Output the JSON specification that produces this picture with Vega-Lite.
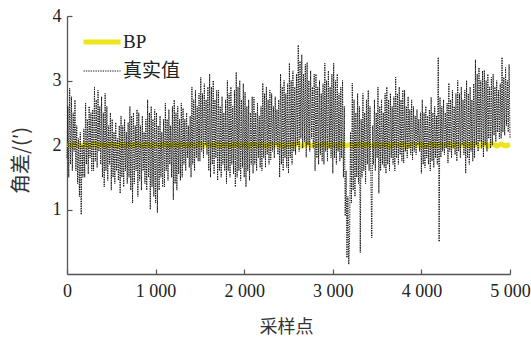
{
  "$schema": "https://vega.github.io/schema/vega-lite/v6.json",
  "width": 443,
  "height": 258,
  "autosize": {"type": "none"},
  "padding": {"left": 67, "top": 16, "right": 21, "bottom": 66},
  "background": "white",
  "datasets": {
    "bp": [
      {"x":0,"BP":2.01},{"x":50,"BP":1.99},{"x":100,"BP":2.015},{"x":150,"BP":1.985},{"x":200,"BP":2.01},{"x":250,"BP":1.99},{"x":300,"BP":2.015},{"x":350,"BP":1.99},{"x":400,"BP":2.01},{"x":450,"BP":1.985},
      {"x":500,"BP":2.015},{"x":550,"BP":1.99},{"x":600,"BP":2.01},{"x":650,"BP":1.985},{"x":700,"BP":2.015},{"x":750,"BP":1.99},{"x":800,"BP":2.01},{"x":850,"BP":1.99},{"x":900,"BP":2.015},{"x":950,"BP":1.985},
      {"x":1000,"BP":2.01},{"x":1050,"BP":1.99},{"x":1100,"BP":2.015},{"x":1150,"BP":1.985},{"x":1200,"BP":2.01},{"x":1250,"BP":1.99},{"x":1300,"BP":2.015},{"x":1350,"BP":1.99},{"x":1400,"BP":2.01},{"x":1450,"BP":1.985},
      {"x":1500,"BP":2.015},{"x":1550,"BP":1.99},{"x":1600,"BP":2.02},{"x":1650,"BP":1.985},{"x":1700,"BP":2.015},{"x":1750,"BP":1.99},{"x":1800,"BP":2.01},{"x":1850,"BP":1.985},{"x":1900,"BP":2.015},{"x":1950,"BP":1.99},
      {"x":2000,"BP":2.01},{"x":2050,"BP":1.985},{"x":2100,"BP":2.015},{"x":2150,"BP":1.99},{"x":2200,"BP":2.01},{"x":2250,"BP":1.985},{"x":2300,"BP":2.015},{"x":2350,"BP":1.99},{"x":2400,"BP":2.01},{"x":2450,"BP":1.985},
      {"x":2500,"BP":2.015},{"x":2550,"BP":1.99},{"x":2600,"BP":2.02},{"x":2650,"BP":1.985},{"x":2700,"BP":2.015},{"x":2750,"BP":1.99},{"x":2800,"BP":2.01},{"x":2850,"BP":1.985},{"x":2900,"BP":2.015},{"x":2950,"BP":1.99},
      {"x":3000,"BP":2.01},{"x":3050,"BP":1.985},{"x":3100,"BP":2.015},{"x":3150,"BP":1.99},{"x":3200,"BP":2.01},{"x":3250,"BP":1.985},{"x":3300,"BP":2.015},{"x":3350,"BP":1.99},{"x":3400,"BP":2.01},{"x":3450,"BP":1.985},
      {"x":3500,"BP":2.015},{"x":3550,"BP":1.99},{"x":3600,"BP":2.01},{"x":3650,"BP":1.985},{"x":3700,"BP":2.015},{"x":3750,"BP":1.99},{"x":3800,"BP":2.01},{"x":3850,"BP":1.985},{"x":3900,"BP":2.015},{"x":3950,"BP":1.99},
      {"x":4000,"BP":2.01},{"x":4050,"BP":1.985},{"x":4100,"BP":2.015},{"x":4150,"BP":1.99},{"x":4200,"BP":2.01},{"x":4250,"BP":1.985},{"x":4300,"BP":2.015},{"x":4350,"BP":1.99},{"x":4400,"BP":2.015},{"x":4450,"BP":1.985},
      {"x":4500,"BP":2.015},{"x":4550,"BP":1.985},{"x":4600,"BP":2.02},{"x":4650,"BP":1.985},{"x":4700,"BP":2.02},{"x":4750,"BP":1.98},{"x":4800,"BP":2.02},{"x":4850,"BP":1.985},{"x":4900,"BP":2.015},{"x":4950,"BP":1.985},
      {"x":5000,"BP":2.005}
    ],
    "real": [
      {"x":0,"真实值":1.8},{"x":10,"真实值":2.6},{"x":20,"真实值":1.5},{"x":30,"真实值":2.88},{"x":40,"真实值":1.7},{"x":50,"真实值":2.75},{"x":60,"真实值":1.6},{"x":70,"真实值":2.5},{"x":80,"真实值":1.9},{"x":90,"真实值":2.7},
      {"x":100,"真实值":1.6},{"x":110,"真实值":2.3},{"x":120,"真实值":1.4},{"x":130,"真实值":2.1},{"x":140,"真实值":1.2},{"x":150,"真实值":2.2},{"x":160,"真实值":0.92},{"x":170,"真实值":2.0},{"x":180,"真实值":1.5},{"x":190,"真实值":2.25},
      {"x":200,"真实值":1.5},{"x":210,"真实值":2.65},{"x":220,"真实值":1.7},{"x":230,"真实值":2.4},{"x":240,"真实值":1.55},{"x":250,"真实值":2.6},{"x":260,"真实值":1.8},{"x":270,"真实值":2.5},{"x":280,"真实值":1.6},{"x":290,"真实值":2.55},
      {"x":300,"真实值":1.6},{"x":310,"真实值":2.9},{"x":320,"真实值":1.75},{"x":330,"真实值":2.7},{"x":340,"真实值":1.65},{"x":350,"真实值":2.85},{"x":360,"真实值":1.9},{"x":370,"真实值":2.6},{"x":380,"真实值":1.7},{"x":390,"真实值":2.75},
      {"x":400,"真实值":1.5},{"x":410,"真实值":2.5},{"x":420,"真实值":1.35},{"x":430,"真实值":2.8},{"x":440,"真实值":1.6},{"x":450,"真实值":2.6},{"x":460,"真实值":1.45},{"x":470,"真实值":2.3},{"x":480,"真实值":1.7},{"x":490,"真实值":2.5},
      {"x":500,"真实值":1.3},{"x":510,"真实值":2.4},{"x":520,"真实值":1.5},{"x":530,"真实值":2.2},{"x":540,"真实值":1.4},{"x":550,"真实值":2.35},{"x":560,"真实值":1.6},{"x":570,"真实值":2.1},{"x":580,"真实值":1.45},{"x":590,"真实值":2.3},
      {"x":600,"真实值":1.25},{"x":610,"真实值":2.45},{"x":620,"真实值":1.5},{"x":630,"真实值":2.3},{"x":640,"真实值":1.35},{"x":650,"真实值":2.4},{"x":660,"真实值":1.6},{"x":670,"真实值":2.2},{"x":680,"真实值":1.4},{"x":690,"真实值":2.35},
      {"x":700,"真实值":1.5},{"x":710,"真实值":2.6},{"x":720,"真实值":1.3},{"x":730,"真实值":2.45},{"x":740,"真实值":1.1},{"x":750,"真实值":2.5},{"x":760,"真实值":1.4},{"x":770,"真实值":2.3},{"x":780,"真实值":1.6},{"x":790,"真实值":2.55},
      {"x":800,"真实值":1.2},{"x":810,"真实值":2.5},{"x":820,"真实值":1.45},{"x":830,"真实值":2.3},{"x":840,"真实值":1.3},{"x":850,"真实值":2.45},{"x":860,"真实值":1.6},{"x":870,"真实值":2.2},{"x":880,"真实值":1.4},{"x":890,"真实值":2.4},
      {"x":900,"真实值":1.3},{"x":910,"真实值":2.7},{"x":920,"真实值":1.5},{"x":930,"真实值":2.5},{"x":940,"真实值":1.0},{"x":950,"真实值":2.6},{"x":960,"真实值":1.35},{"x":970,"真实值":2.4},{"x":980,"真实值":1.2},{"x":990,"真实值":2.55},
      {"x":1000,"真实值":1.1},{"x":1010,"真实值":2.5},{"x":1020,"真实值":0.95},{"x":1030,"真实值":2.3},{"x":1040,"真实值":1.3},{"x":1050,"真实值":2.45},{"x":1060,"真实值":1.5},{"x":1070,"真实值":2.2},{"x":1080,"真实值":1.35},{"x":1090,"真实值":2.4},
      {"x":1100,"真实值":1.35},{"x":1110,"真实值":2.65},{"x":1120,"真实值":1.6},{"x":1130,"真实值":2.4},{"x":1140,"真实值":1.45},{"x":1150,"真实值":2.55},{"x":1160,"真实值":1.7},{"x":1170,"真实值":2.3},{"x":1180,"真实值":1.5},{"x":1190,"真实值":2.6},
      {"x":1200,"真实值":1.15},{"x":1210,"真实值":2.7},{"x":1220,"真实值":1.4},{"x":1230,"真实值":2.5},{"x":1240,"真实值":1.3},{"x":1250,"真实值":2.6},{"x":1260,"真实值":1.55},{"x":1270,"真实值":2.4},{"x":1280,"真实值":1.45},{"x":1290,"真实值":2.65},
      {"x":1300,"真实值":1.5},{"x":1310,"真实值":2.57},{"x":1320,"真实值":1.7},{"x":1330,"真实值":2.4},{"x":1340,"真实值":1.6},{"x":1350,"真实值":2.5},{"x":1360,"真实值":1.8},{"x":1370,"真实值":2.3},{"x":1380,"真实值":1.65},{"x":1390,"真实值":2.45},
      {"x":1400,"真实值":1.5},{"x":1410,"真实值":2.9},{"x":1420,"真实值":1.7},{"x":1430,"真实值":2.7},{"x":1440,"真实值":1.6},{"x":1450,"真实值":2.85},{"x":1460,"真实值":1.8},{"x":1470,"真实值":2.6},{"x":1480,"真实值":1.75},{"x":1490,"真实值":2.8},
      {"x":1500,"真实值":1.75},{"x":1510,"真实值":3.05},{"x":1520,"真实值":1.9},{"x":1530,"真实值":2.8},{"x":1540,"真实值":1.8},{"x":1550,"真实值":2.95},{"x":1560,"真实值":2.0},{"x":1570,"真实值":2.7},{"x":1580,"真实值":1.85},{"x":1590,"真实值":2.9},
      {"x":1600,"真实值":1.6},{"x":1610,"真实值":3.1},{"x":1620,"真实值":1.5},{"x":1630,"真实值":2.9},{"x":1640,"真实值":1.7},{"x":1650,"真实值":3.0},{"x":1660,"真实值":1.55},{"x":1670,"真实值":2.7},{"x":1680,"真实值":1.8},{"x":1690,"真实值":2.85},
      {"x":1700,"真实值":1.45},{"x":1710,"真实值":2.85},{"x":1720,"真实值":1.6},{"x":1730,"真实值":2.6},{"x":1740,"真实值":1.5},{"x":1750,"真实值":2.75},{"x":1760,"真实值":1.7},{"x":1770,"真实值":2.5},{"x":1780,"真实值":1.6},{"x":1790,"真实值":2.7},
      {"x":1800,"真实值":1.4},{"x":1810,"真实值":3.0},{"x":1820,"真实值":1.6},{"x":1830,"真实值":2.8},{"x":1840,"真实值":1.5},{"x":1850,"真实值":2.9},{"x":1860,"真实值":1.7},{"x":1870,"真实值":2.6},{"x":1880,"真实值":1.55},{"x":1890,"真实值":2.85},
      {"x":1900,"真实值":1.35},{"x":1910,"真实值":3.13},{"x":1920,"真实值":1.5},{"x":1930,"真实值":2.9},{"x":1940,"真实值":1.6},{"x":1950,"真实值":3.0},{"x":1960,"真实值":1.45},{"x":1970,"真实值":2.7},{"x":1980,"真实值":1.65},{"x":1990,"真实值":2.95},
      {"x":2000,"真实值":1.5},{"x":2010,"真实值":2.82},{"x":2020,"真实值":1.35},{"x":2030,"真实值":2.6},{"x":2040,"真实值":1.6},{"x":2050,"真实值":2.7},{"x":2060,"真实值":1.45},{"x":2070,"真实值":2.5},{"x":2080,"真实值":1.7},{"x":2090,"真实值":2.75},
      {"x":2100,"真实值":1.56},{"x":2110,"真实值":2.74},{"x":2120,"真实值":1.7},{"x":2130,"真实值":2.5},{"x":2140,"真实值":1.6},{"x":2150,"真实值":2.65},{"x":2160,"真实值":1.8},{"x":2170,"真实值":2.45},{"x":2180,"真实值":1.65},{"x":2190,"真实值":2.6},
      {"x":2200,"真实值":1.6},{"x":2210,"真实值":2.96},{"x":2220,"真实值":1.8},{"x":2230,"真实值":2.8},{"x":2240,"真实值":1.65},{"x":2250,"真实值":2.9},{"x":2260,"真实值":1.85},{"x":2270,"真实值":2.7},{"x":2280,"真实值":1.7},{"x":2290,"真实值":2.85},
      {"x":2300,"真实值":1.77},{"x":2310,"真实值":2.8},{"x":2320,"真实值":1.9},{"x":2330,"真实值":2.6},{"x":2340,"真实值":1.8},{"x":2350,"真实值":2.75},{"x":2360,"真实值":2.0},{"x":2370,"真实值":2.55},{"x":2380,"真实值":1.85},{"x":2390,"真实值":2.7},
      {"x":2400,"真实值":1.5},{"x":2410,"真实值":3.1},{"x":2420,"真实值":1.7},{"x":2430,"真实值":2.9},{"x":2440,"真实值":1.6},{"x":2450,"真实值":3.0},{"x":2460,"真实值":1.8},{"x":2470,"真实值":2.8},{"x":2480,"真实值":1.65},{"x":2490,"真实值":2.95},
      {"x":2500,"真实值":1.56},{"x":2510,"真实值":3.27},{"x":2520,"真实值":1.8},{"x":2530,"真实值":3.0},{"x":2540,"真实值":1.7},{"x":2550,"真实值":3.15},{"x":2560,"真实值":1.9},{"x":2570,"真实值":2.9},{"x":2580,"真实值":1.85},{"x":2590,"真实值":3.1},
      {"x":2600,"真实值":2.0},{"x":2610,"真实值":3.55},{"x":2620,"真实值":1.9},{"x":2630,"真实值":3.3},{"x":2640,"真实值":2.1},{"x":2650,"真实值":3.4},{"x":2660,"真实值":1.95},{"x":2670,"真实值":3.1},{"x":2680,"真实值":2.05},{"x":2690,"真实值":3.25},
      {"x":2700,"真实值":1.81},{"x":2710,"真实值":3.28},{"x":2720,"真实值":2.0},{"x":2730,"真实值":3.0},{"x":2740,"真实值":1.9},{"x":2750,"真实值":3.15},{"x":2760,"真实值":2.1},{"x":2770,"真实值":2.9},{"x":2780,"真实值":1.95},{"x":2790,"真实值":3.1},
      {"x":2800,"真实值":1.6},{"x":2810,"真实值":3.1},{"x":2820,"真实值":1.8},{"x":2830,"真实值":2.9},{"x":2840,"真实值":1.7},{"x":2850,"真实值":3.0},{"x":2860,"真实值":1.85},{"x":2870,"真实值":2.8},{"x":2880,"真实值":1.75},{"x":2890,"真实值":2.95},
      {"x":2900,"真实值":1.7},{"x":2910,"真实值":3.27},{"x":2920,"真实值":1.9},{"x":2930,"真实值":3.0},{"x":2940,"真实值":1.75},{"x":2950,"真实值":3.15},{"x":2960,"真实值":1.95},{"x":2970,"真实值":2.9},{"x":2980,"真实值":1.8},{"x":2990,"真实值":3.1},
      {"x":3000,"真实值":1.56},{"x":3010,"真实值":3.27},{"x":3020,"真实值":1.8},{"x":3030,"真实值":3.0},{"x":3040,"真实值":1.7},{"x":3050,"真实值":3.1},{"x":3060,"真实值":1.9},{"x":3070,"真实值":2.8},{"x":3080,"真实值":1.75},{"x":3090,"真实值":2.9},
      {"x":3100,"真实值":1.8},{"x":3110,"真实值":3.0},{"x":3120,"真实值":1.5},{"x":3130,"真实值":2.6},{"x":3140,"真实值":0.9},{"x":3150,"真实值":1.6},{"x":3160,"真实值":0.25},{"x":3170,"真实值":1.2},{"x":3180,"真实值":0.15},{"x":3190,"真实值":0.6},
      {"x":3200,"真实值":2.2},{"x":3210,"真实值":1.1},{"x":3220,"真实值":2.96},{"x":3230,"真实值":1.3},{"x":3240,"真实值":2.7},{"x":3250,"真实值":1.2},{"x":3260,"真实值":2.5},{"x":3270,"真实值":1.5},{"x":3280,"真实值":2.8},{"x":3290,"真实值":1.4},
      {"x":3300,"真实值":2.6},{"x":3310,"真实值":0.33},{"x":3320,"真实值":2.4},{"x":3330,"真实值":1.5},{"x":3340,"真实值":2.8},{"x":3350,"真实值":1.6},{"x":3360,"真实值":2.5},{"x":3370,"真实值":1.4},{"x":3380,"真实值":2.7},{"x":3390,"真实值":1.7},
      {"x":3400,"真实值":2.85},{"x":3410,"真实值":1.6},{"x":3420,"真实值":2.6},{"x":3430,"真实值":1.5},{"x":3440,"真实值":0.56},{"x":3450,"真实值":2.3},{"x":3460,"真实值":1.7},{"x":3470,"真实值":2.7},{"x":3480,"真实值":1.6},{"x":3490,"真实值":2.5},
      {"x":3500,"真实值":1.8},{"x":3510,"真实值":2.9},{"x":3520,"真实值":1.25},{"x":3530,"真实值":2.6},{"x":3540,"真实值":1.6},{"x":3550,"真实值":2.7},{"x":3560,"真实值":1.7},{"x":3570,"真实值":2.5},{"x":3580,"真实值":1.65},{"x":3590,"真实值":2.8},
      {"x":3600,"真实值":1.56},{"x":3610,"真实值":2.9},{"x":3620,"真实值":1.7},{"x":3630,"真实值":2.7},{"x":3640,"真实值":1.6},{"x":3650,"真实值":2.8},{"x":3660,"真实值":1.8},{"x":3670,"真实值":2.6},{"x":3680,"真实值":1.7},{"x":3690,"真实值":2.75},
      {"x":3700,"真实值":1.6},{"x":3710,"真实值":3.05},{"x":3720,"真实值":1.8},{"x":3730,"真实值":2.8},{"x":3740,"真实值":1.7},{"x":3750,"真实值":2.9},{"x":3760,"真实值":1.85},{"x":3770,"真实值":2.7},{"x":3780,"真实值":1.75},{"x":3790,"真实值":2.85},
      {"x":3800,"真实值":1.72},{"x":3810,"真实值":2.85},{"x":3820,"真实值":1.9},{"x":3830,"真实值":2.6},{"x":3840,"真实值":1.8},{"x":3850,"真实值":2.75},{"x":3860,"真实值":1.95},{"x":3870,"真实值":2.55},{"x":3880,"真实值":1.85},{"x":3890,"真实值":2.7},
      {"x":3900,"真实值":1.77},{"x":3910,"真实值":2.6},{"x":3920,"真实值":1.9},{"x":3930,"真实值":2.45},{"x":3940,"真实值":1.85},{"x":3950,"真实值":2.55},{"x":3960,"真实值":2.0},{"x":3970,"真实值":2.4},{"x":3980,"真实值":1.9},{"x":3990,"真实值":2.5},
      {"x":4000,"真实值":1.56},{"x":4010,"真实值":2.7},{"x":4020,"真实值":1.7},{"x":4030,"真实值":2.5},{"x":4040,"真实值":1.65},{"x":4050,"真实值":2.6},{"x":4060,"真实值":1.8},{"x":4070,"真实值":2.45},{"x":4080,"真实值":1.7},{"x":4090,"真实值":2.55},
      {"x":4100,"真实值":1.6},{"x":4110,"真实值":2.74},{"x":4120,"真实值":1.75},{"x":4130,"真实值":2.5},{"x":4140,"真实值":1.65},{"x":4150,"真实值":2.6},{"x":4160,"真实值":1.8},{"x":4170,"真实值":2.45},{"x":4180,"真实值":1.7},{"x":4190,"真实值":3.36},
      {"x":4200,"真实值":0.5},{"x":4210,"真实值":2.74},{"x":4220,"真实值":1.81},{"x":4230,"真实值":2.6},{"x":4240,"真实值":1.9},{"x":4250,"真实值":2.7},{"x":4260,"真实值":1.85},{"x":4270,"真实值":2.5},{"x":4280,"真实值":1.95},{"x":4290,"真实值":2.65},
      {"x":4300,"真实值":1.72},{"x":4310,"真实值":2.96},{"x":4320,"真实值":1.9},{"x":4330,"真实值":2.7},{"x":4340,"真实值":1.8},{"x":4350,"真实值":2.85},{"x":4360,"真实值":1.95},{"x":4370,"真实值":2.6},{"x":4380,"真实值":1.85},{"x":4390,"真实值":2.8},
      {"x":4400,"真实值":1.75},{"x":4410,"真实值":3.0},{"x":4420,"真实值":1.9},{"x":4430,"真实值":2.8},{"x":4440,"真实值":1.8},{"x":4450,"真实值":2.9},{"x":4460,"真实值":2.0},{"x":4470,"真实值":2.7},{"x":4480,"真实值":1.85},{"x":4490,"真实值":2.85},
      {"x":4500,"真实值":1.56},{"x":4510,"真实值":3.0},{"x":4520,"真实值":1.8},{"x":4530,"真实值":2.8},{"x":4540,"真实值":1.7},{"x":4550,"真实值":2.9},{"x":4560,"真实值":1.9},{"x":4570,"真实值":2.7},{"x":4580,"真实值":1.75},{"x":4590,"真实值":2.95},
      {"x":4600,"真实值":1.8},{"x":4610,"真实值":3.32},{"x":4620,"真实值":2.0},{"x":4630,"真实值":3.1},{"x":4640,"真实值":1.9},{"x":4650,"真实值":3.2},{"x":4660,"真实值":2.05},{"x":4670,"真实值":3.0},{"x":4680,"真实值":1.95},{"x":4690,"真实值":3.15},
      {"x":4700,"真实值":1.81},{"x":4710,"真实值":3.16},{"x":4720,"真实值":2.0},{"x":4730,"真实值":3.0},{"x":4740,"真实值":1.9},{"x":4750,"真实值":3.1},{"x":4760,"真实值":2.1},{"x":4770,"真实值":2.9},{"x":4780,"真实值":1.95},{"x":4790,"真实值":3.05},
      {"x":4800,"真实值":2.0},{"x":4810,"真实值":3.1},{"x":4820,"真实值":2.15},{"x":4830,"真实值":2.9},{"x":4840,"真实值":2.05},{"x":4850,"真实值":3.0},{"x":4860,"真实值":2.2},{"x":4870,"真实值":2.85},{"x":4880,"真实值":2.1},{"x":4890,"真实值":2.95},
      {"x":4900,"真实值":2.1},{"x":4910,"真实值":3.36},{"x":4920,"真实值":2.2},{"x":4930,"真实值":3.05},{"x":4940,"真实值":2.15},{"x":4950,"真实值":3.2},{"x":4960,"真实值":2.3},{"x":4970,"真实值":3.0},{"x":4980,"真实值":2.2},{"x":4990,"真实值":3.25},
      {"x":5000,"真实值":2.1}
    ]
  },
  "encoding": {
    "x": {"field": "x", "type": "quantitative",
      "scale": {"domain": [0, 5000], "nice": false, "zero": false},
      "axis": {"values": [0, 1000, 2000, 3000, 4000, 5000],
        "labelExpr": "replace(format(datum.value, ','), ',', ' ')",
        "title": "采样点", "titleX": 219, "titleY": 53, "titleBaseline": "middle", "titleAlign": "center",
        "labelPadding": 13, "labelFlush": false}},
    "y": {"field": "y", "type": "quantitative",
      "scale": {"domain": [0, 4], "nice": false},
      "axis": {"values": [1, 2, 3, 4], "title": "角差/(′)",
        "titleX": -46, "titleY": 144, "titleBaseline": "middle", "titleAlign": "center", "titleAngle": -90,
        "titleFontSize": 20, "labelPadding": 11}},
    "color": {"field": "s", "type": "nominal",
      "scale": {"domain": ["BP", "真实值"], "range": ["#ede51c", "#111111"]},
      "legend": {"title": null}},
    "strokeDash": {"field": "s", "type": "nominal",
      "scale": {"domain": ["BP", "真实值"], "range": [[1, 0], [1.3, 1.1]]},
      "legend": {"title": null}},
    "strokeWidth": {"field": "s", "type": "nominal",
      "scale": {"domain": ["BP", "真实值"], "range": [5, 1]},
      "legend": {"title": null}}
  },
  "layer": [
    {"data": {"name": "bp"}, "transform": [{"fold": ["BP"], "as": ["s", "y"]}], "mark": {"type": "line"}},
    {"data": {"name": "real"}, "transform": [{"fold": ["真实值"], "as": ["s", "y"]}], "mark": {"type": "line"}}
  ],
  "config": {
    "view": {"stroke": null},
    "font": "Liberation Serif",
    "axis": {
      "grid": false, "domainColor": "#555", "domainWidth": 1.3,
      "tickColor": "#555", "tickSize": -5, "tickWidth": 1.2,
      "labelFont": "Liberation Serif", "labelFontSize": 18, "labelColor": "#222",
      "titleFont": "Noto Sans CJK SC", "titleFontSize": 18, "titleFontWeight": "normal", "titleColor": "#333"
    },
    "legend": {
      "orient": "none", "legendX": 14, "legendY": 5, "padding": 0,
      "symbolType": "stroke", "symbolSize": 1369, "symbolStrokeWidth": 1.5,
      "labelFont": "Liberation Serif, Noto Sans CJK SC", "labelFontSize": 19, "labelColor": "#222",
      "labelOffset": 0, "rowPadding": -9
    }
  }
}
